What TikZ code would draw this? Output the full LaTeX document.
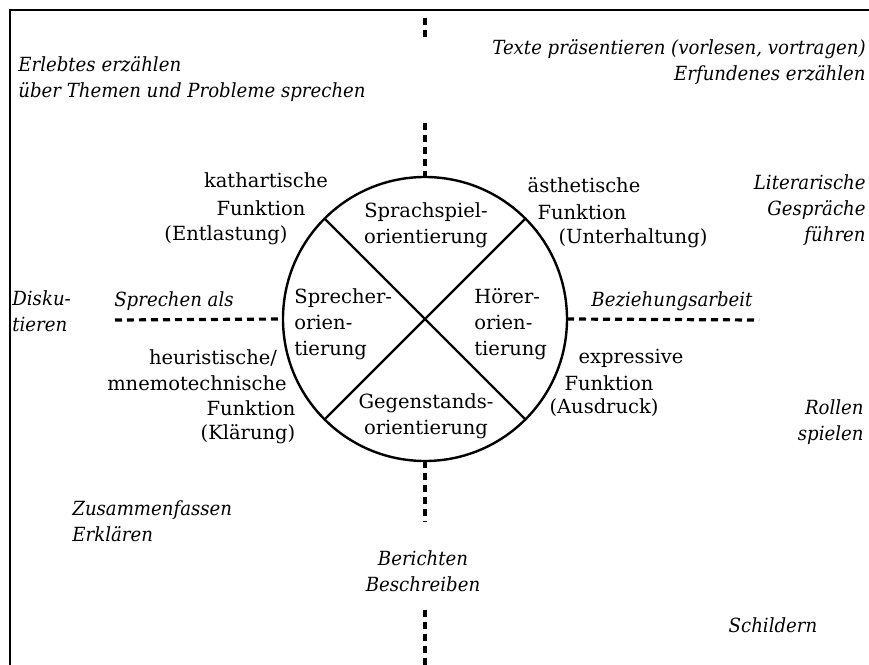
\documentclass[tikz,border=0pt]{standalone}
\usepackage{fontspec}
\setmainfont{DejaVu Serif}
\newfontfamily\slimit{DejaVu Serif Italic}[FakeStretch=0.93]
\usetikzlibrary{calc}

\tikzset{
  lbl/.style={inner sep=0pt, font=\fontsize{9.75}{13}\selectfont},
  lblit/.style={inner sep=0pt, font=\slimit\fontsize{9.75}{13}\selectfont},
  axisline/.style={line width=1.6pt, dash pattern=on 3.5pt off 2.5pt},
  frameline/.style={line width=1pt}
}

\begin{document}
\begin{tikzpicture}[x=0.5pt, y=-0.5pt]

\useasboundingbox (0,0) rectangle (869,665);

% Frame (top and left edge only)
\coordinate (FR) at (869,10);
\coordinate (FC) at (10,10);
\coordinate (FB) at (10,665);
\draw[frameline] (FR) -- (FC) -- (FB);

% Main circle and its two diagonals
\node (ring) [draw, circle, line width=1.2pt, minimum size=142pt, inner sep=0pt, outer sep=0pt] at (425,319) {};
\draw[line width=1.2pt] (ring.135) -- (ring.-45);
\draw[line width=1.2pt] (ring.45) -- (ring.-135);

% End points of the dashed axes
\coordinate (N1) at (425,18);
\coordinate (N2) at (425,38);
\coordinate (N3) at (425,123);
\coordinate (S1) at (425,522);
\coordinate (S2) at (425,610);
\coordinate (S3) at (425,665);
\coordinate (W1) at (115,320);
\coordinate (E1) at (759,320);

% Dashed axes
\draw[axisline] (N1) -- (N2);
\draw[axisline] (N3) -- (ring.north);
\draw[axisline] (ring.south) -- (S1);
\draw[axisline] (S2) -- (S3);
\draw[axisline] (W1) -- (ring.west);
\draw[axisline] (ring.east) -- (E1);

% Quadrants inside the circle
\node (sprachspiel) [lbl, align=center] at (426,225) {Sprachspiel-\\orientierung};
\node (sprecher) [lbl, align=left, anchor=west] at (294,324) {Sprecher-\\orien-\\tierung};
\node (hoerer) [lbl, align=left, anchor=west] at (474,324) {Hörer-\\orien-\\tierung};
\node (gegenstand) [lbl, align=center] at (426,416) {Gegenstands-\\orientierung};

% Functions around the circle
\node (kath1) [lbl] at (266,180) {kathartische};
\node (kath2) [lbl] at (261,208) {Funktion};
\node (kath3) [lbl] at (226,235) {(Entlastung)};

\node (aest1) [lbl] at (584,185) {ästhetische};
\node (aest2) [lbl] at (582,212) {Funktion};
\node (aest3) [lbl] at (633,238) {(Unterhaltung)};

\node (heur1) [lbl] at (213,358) {heuristische/};
\node (heur2) [lbl] at (197,383) {mnemotechnische};
\node (heur3) [lbl] at (251,408) {Funktion};
\node (heur4) [lbl] at (248,434) {(Klärung)};

\node (expr1) [lbl] at (631,358) {expressive};
\node (expr2) [lbl] at (609,383) {Funktion};
\node (expr3) [lbl] at (604,408) {(Ausdruck)};

% Axis captions
\node (sprechenals) [lblit] at (174,301) {Sprechen als};
\node (beziehung) [lblit] at (672,301) {Beziehungsarbeit};

% Speaking activities in the corners
\node (erlebtes) [lblit, align=left, anchor=west] at (18,79) {Erlebtes erzählen\\über Themen und Probleme sprechen};
\node (texte) [lblit, align=right, anchor=east] at (866,62) {Texte präsentieren (vorlesen, vortragen)\\Erfundenes erzählen};
\node (literarisch) [lblit, align=right, anchor=east] at (866,210) {Literarische\\Gespräche\\führen};
\node (diskutieren) [lblit, align=left, anchor=west] at (12,311) {Disku-\\tieren};
\node (rollen) [lblit, align=right, anchor=east] at (864,422) {Rollen\\spielen};
\node (zusammen) [lblit, align=left, anchor=west] at (72,521) {Zusammenfassen\\Erklären};
\node (berichten) [lblit, align=center] at (423,571) {Berichten\\Beschreiben};
\node (schildern) [lblit] at (773,625) {Schildern};

\end{tikzpicture}
\end{document}
